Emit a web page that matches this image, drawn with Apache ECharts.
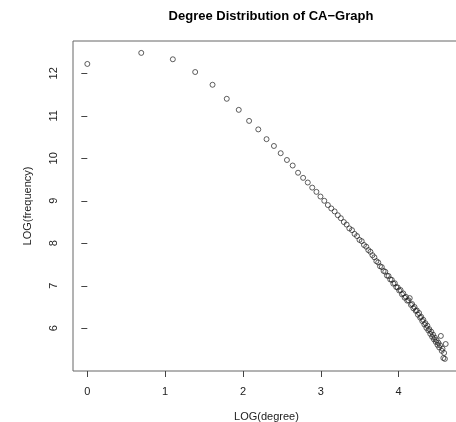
<!DOCTYPE html>
<html>
<head>
<meta charset="utf-8">
<script src="https://cdn.jsdelivr.net/npm/echarts@6/dist/echarts.min.js"></script>
<style>
html, body { margin: 0; padding: 0; background: #fff; }
#degreeChart { width: 456px; height: 422px; }
</style>
</head>
<body>
<div id="degreeChart"></div>
<script>
var byId = function(id){
	return document.getElementById(id);
};

// LOG(degree) for degree 1..100
var logDegree = [
	0.000, 0.693, 1.099, 1.386, 1.609, 1.792, 1.946, 2.079, 2.197, 2.303,
	2.398, 2.485, 2.565, 2.639, 2.708, 2.773, 2.833, 2.890, 2.944, 2.996,
	3.045, 3.091, 3.135, 3.178, 3.219, 3.258, 3.296, 3.332, 3.367, 3.401,
	3.434, 3.466, 3.497, 3.526, 3.555, 3.584, 3.611, 3.638, 3.664, 3.689,
	3.714, 3.738, 3.761, 3.784, 3.807, 3.829, 3.850, 3.871, 3.892, 3.912,
	3.932, 3.951, 3.970, 3.989, 4.007, 4.025, 4.043, 4.060, 4.078, 4.094,
	4.111, 4.127, 4.143, 4.159, 4.174, 4.190, 4.205, 4.220, 4.234, 4.248,
	4.263, 4.277, 4.290, 4.304, 4.317, 4.331, 4.344, 4.357, 4.369, 4.382,
	4.394, 4.407, 4.419, 4.431, 4.443, 4.454, 4.466, 4.477, 4.489, 4.500,
	4.511, 4.522, 4.533, 4.543, 4.554, 4.564, 4.575, 4.585, 4.595, 4.605
];
// LOG(frequency)
var logFrequency = [
	12.22, 12.48, 12.33, 12.03, 11.73, 11.40, 11.14, 10.88, 10.68, 10.45,
	10.29, 10.12, 9.96, 9.83, 9.66, 9.54, 9.43, 9.31, 9.21, 9.10,
	9.00, 8.90, 8.82, 8.75, 8.66, 8.59, 8.50, 8.44, 8.35, 8.31,
	8.22, 8.17, 8.08, 8.05, 7.96, 7.92, 7.84, 7.80, 7.72, 7.67,
	7.58, 7.55, 7.46, 7.44, 7.35, 7.33, 7.24, 7.23, 7.15, 7.14,
	7.05, 7.06, 6.97, 6.96, 6.89, 6.90, 6.80, 6.82, 6.72, 6.74,
	6.65, 6.66, 6.71, 6.55, 6.57, 6.47, 6.50, 6.41, 6.42, 6.32,
	6.36, 6.25, 6.27, 6.17, 6.20, 6.09, 6.12, 6.01, 6.06, 5.95,
	5.98, 5.87, 5.92, 5.80, 5.85, 5.74, 5.78, 5.68, 5.72, 5.61,
	5.66, 5.55, 5.60, 5.82, 5.47, 5.52, 5.30, 5.42, 5.28, 5.63
];
var xTicks = [0, 1, 2, 3, 4];
var yTicks = [6, 7, 8, 9, 10, 11, 12];

var points = logDegree.map(function(x, i){
	return [x, logFrequency[i]];
});

var font = 'Liberation Sans, Arial, sans-serif';

var chartOption = {
	animation: false,
	backgroundColor: '#fff',
	title: {
		text: 'Degree Distribution of CA\u2212Graph',
		left: 266,
		top: 5,
		textAlign: 'center',
		textStyle: {
			fontFamily: font,
			fontSize: 13,
			fontWeight: 'bold',
			color: '#000'
		}
	},
	grid: {
		left: 73,
		top: 41,
		right: -4,
		bottom: 51,
		outerBoundsMode: 'none',
		containLabel: false,
		show: true,
		borderColor: '#666',
		borderWidth: 1,
		backgroundColor: 'transparent'
	},
	xAxis: {
		type: 'value',
		min: -0.184,
		max: 4.789,
		name: 'LOG(degree)',
		nameLocation: 'middle',
		nameGap: 40,
		nameTextStyle: { fontFamily: font, fontSize: 11, color: '#222' },
		axisLine: { show: false },
		splitLine: { show: false },
		axisTick: {
			show: true,
			inside: false,
			length: 6,
			lineStyle: { color: '#444' },
			customValues: xTicks
		},
		axisLabel: {
			fontFamily: font,
			fontSize: 11,
			color: '#222',
			margin: 15,
			customValues: xTicks
		}
	},
	yAxis: {
		type: 'value',
		min: 4.995,
		max: 12.76,
		name: 'LOG(frequency)',
		nameLocation: 'middle',
		nameGap: 40,
		nameTextStyle: { fontFamily: font, fontSize: 11, color: '#222' },
		axisLine: { show: false },
		splitLine: { show: false },
		axisTick: {
			show: true,
			inside: false,
			length: 6,
			lineStyle: { color: '#444' },
			customValues: yTicks
		},
		axisLabel: {
			fontFamily: font,
			fontSize: 11,
			color: '#222',
			rotate: 90,
			margin: 14,
			customValues: yTicks
		}
	},
	series: [{
		type: 'scatter',
		data: points,
		symbol: 'circle',
		symbolSize: 5,
		itemStyle: {
			color: 'transparent',
			borderColor: '#222',
			borderWidth: 0.9
		}
	}]
};

var degreeChart = echarts.init(byId('degreeChart'));
degreeChart.setOption(chartOption);
</script>
</body>
</html>
